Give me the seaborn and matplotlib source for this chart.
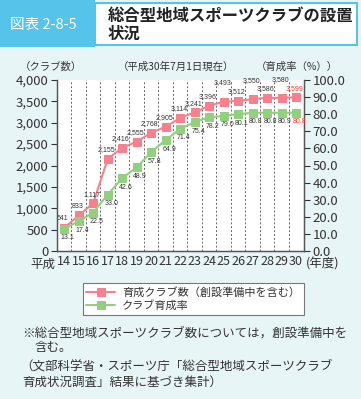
import numpy as np
import pandas as pd
import matplotlib
matplotlib.use('Agg')
import matplotlib.pyplot as plt
import seaborn as sns
from matplotlib.patches import Rectangle
from matplotlib import font_manager
import warnings as wr
wr.filterwarnings('ignore')

# data (平成14 - 30年度)
years = [14, 15, 16, 17, 18, 19, 20, 21, 22, 23, 24, 25, 26, 27, 28, 29, 30]
clubs = [541, 833, 1117, 2155, 2416, 2555, 2768, 2905, 3114, 3241, 3396, 3493, 3512, 3550, 3586, 3580, 3599]
rate = [13.1, 17.4, 22.5, 33.0, 42.6, 48.9, 57.8, 64.9, 71.4, 75.4, 78.2, 79.0, 80.1, 80.8, 80.8, 80.9, 80.8]
club_ticks = [0, 500, 1000, 1500, 2000, 2500, 3000, 3500, 4000]
rate_ticks = [0, 10, 20, 30, 40, 50, 60, 70, 80, 90, 100]
legend_labels = ['育成クラブ数（創設準備中を含む）', 'クラブ育成率']

df = pd.DataFrame({'year': years, 'clubs': clubs, 'rate': rate})

sns.set_style('white')
plt.rcParams['font.family'] = ['Noto Sans CJK JP', 'DejaVu Sans']

installed = {f.name for f in font_manager.fontManager.ttflist}
small_font = 'Liberation Sans Narrow' if 'Liberation Sans Narrow' in installed else 'Liberation Sans'

bg = '#e8f5f6'
blue = '#55c3ea'
pink = '#f7808e'
green = '#92cf7f'
txt = '#333333'

fig = plt.figure(figsize=(3.61, 3.99), dpi=100, facecolor=bg)

# header
fig.patches.append(Rectangle((0, 1 - 47 / 399), 95 / 361, 47 / 399, transform=fig.transFigure,
                             facecolor=blue, edgecolor='none', zorder=0))
fig.patches.append(Rectangle((95 / 361, 1 - 45 / 399), 262 / 361, 42 / 399, transform=fig.transFigure,
                             facecolor='white', edgecolor=blue, linewidth=1.5, zorder=1))
fig.text(10 / 361, 1 - 25 / 399, '図表 2-8-5', color='white', fontsize=10.5, va='center', ha='left')
fig.text(108 / 361, 1 - 16 / 399, '総合型地域スポーツクラブの設置', color='#222222', fontsize=11.8,
         fontweight='bold', va='center', ha='left')
fig.text(108 / 361, 1 - 34 / 399, '状況', color='#222222', fontsize=11.8,
         fontweight='bold', va='center', ha='left')

ax = fig.add_axes([57 / 361, 1 - 251 / 399, 247 / 361, 171 / 399])
ax.set_facecolor('white')
ax2 = ax.twinx()

sns.lineplot(data=df, x='year', y='clubs', ax=ax, color=pink, marker='s', markersize=6,
             markeredgecolor=pink, linewidth=1.5, label=legend_labels[0], legend=False)
sns.lineplot(data=df, x='year', y='rate', ax=ax2, color=green, marker='s', markersize=6,
             markeredgecolor=green, linewidth=1.5, label=legend_labels[1], legend=False)

ax.set_xlim(13.5, 30.55)
ax.set_ylim(0, 4000)
ax2.set_ylim(0, 100)

for x in np.arange(14.5, 30, 1):
    ax.axvline(x, color='#666666', linestyle=(0, (2, 2)), linewidth=0.7, zorder=0)

ax.set_xticks(years)
ax.set_xticklabels([str(y) for y in years])
ax.set_yticks(club_ticks)
ax.set_yticklabels([f'{v:,}' for v in club_ticks])
ax2.set_yticks(rate_ticks)
ax2.set_yticklabels([f'{v:.1f}' for v in rate_ticks])
ax.set_xlabel('')
ax.set_ylabel('')
ax2.set_ylabel('')

ax.tick_params(axis='x', length=0, labelsize=9, colors=txt, pad=3)
ax.tick_params(axis='y', length=4, width=0.8, direction='out', labelsize=9.5, colors=txt, pad=2, left=True)
ax2.tick_params(axis='y', length=4, width=0.8, direction='out', labelsize=9.5, colors=txt, pad=2, right=True)

for a in (ax, ax2):
    a.spines['top'].set_visible(False)
    for s in ('left', 'right', 'bottom'):
        a.spines[s].set_color('#555555')
        a.spines[s].set_linewidth(0.9)

# value labels (the crowded last years alternate high / low, as in the source)
for i, (x, c, r) in enumerate(zip(years, clubs, rate)):
    last = i == len(years) - 1
    col = '#f03c2e' if last else txt
    up = 4 + (7 if i >= 11 and (i - 11) % 2 == 0 else 0)
    ax.annotate(f'{c:,}', (x, c), xytext=(-1, up), textcoords='offset points', ha='center',
                va='bottom', fontsize=5, color=col, family=small_font)
    ax2.annotate(f'{r:.1f}', (x, r), xytext=(2.5, -4), textcoords='offset points', ha='center',
                 va='top', fontsize=5, color=col, family=small_font)

# axis captions
fig.text(20 / 361, 1 - 67 / 399, '（クラブ数）', fontsize=7.5, color=txt, va='center', ha='left')
fig.text(176 / 361, 1 - 67 / 399, '（平成30年7月1日現在）', fontsize=7.5, color=txt, va='center', ha='center')
fig.text(338 / 361, 1 - 67 / 399, '（育成率（%））', fontsize=7.5, color=txt, va='center', ha='right')
fig.text(43 / 361, 1 - 264 / 399, '平成', fontsize=9, color=txt, va='center', ha='center')
fig.text(323 / 361, 1 - 264 / 399, '(年度)', fontsize=9, color=txt, va='center', ha='center')

# legend
h1, l1 = ax.get_legend_handles_labels()
h2, l2 = ax2.get_legend_handles_labels()
leg = fig.legend(h1 + h2, l1 + l2, loc='upper left', bbox_to_anchor=(77 / 361, 1 - 277 / 399),
                 fontsize=8, frameon=True, fancybox=False, edgecolor='#777777', framealpha=1,
                 handlelength=2.6, borderpad=0.35, labelspacing=0.25, handletextpad=0.6)
leg.get_frame().set_linewidth(0.8)
for t in leg.get_texts():
    t.set_color(txt)

# notes
fig.text(22 / 361, 1 - 333 / 399, '※総合型地域スポーツクラブ数については，創設準備中を', fontsize=9,
         color=txt, va='center', ha='left')
fig.text(35 / 361, 1 - 348 / 399, '含む。', fontsize=9, color=txt, va='center', ha='left')
fig.text(20 / 361, 1 - 366 / 399, '（文部科学省・スポーツ庁「総合型地域スポーツクラブ', fontsize=9,
         color=txt, va='center', ha='left')
fig.text(22 / 361, 1 - 382 / 399, '育成状況調査」結果に基づき集計）', fontsize=9, color=txt,
         va='center', ha='left')

fig.savefig('out.png', dpi=100, facecolor=bg)
